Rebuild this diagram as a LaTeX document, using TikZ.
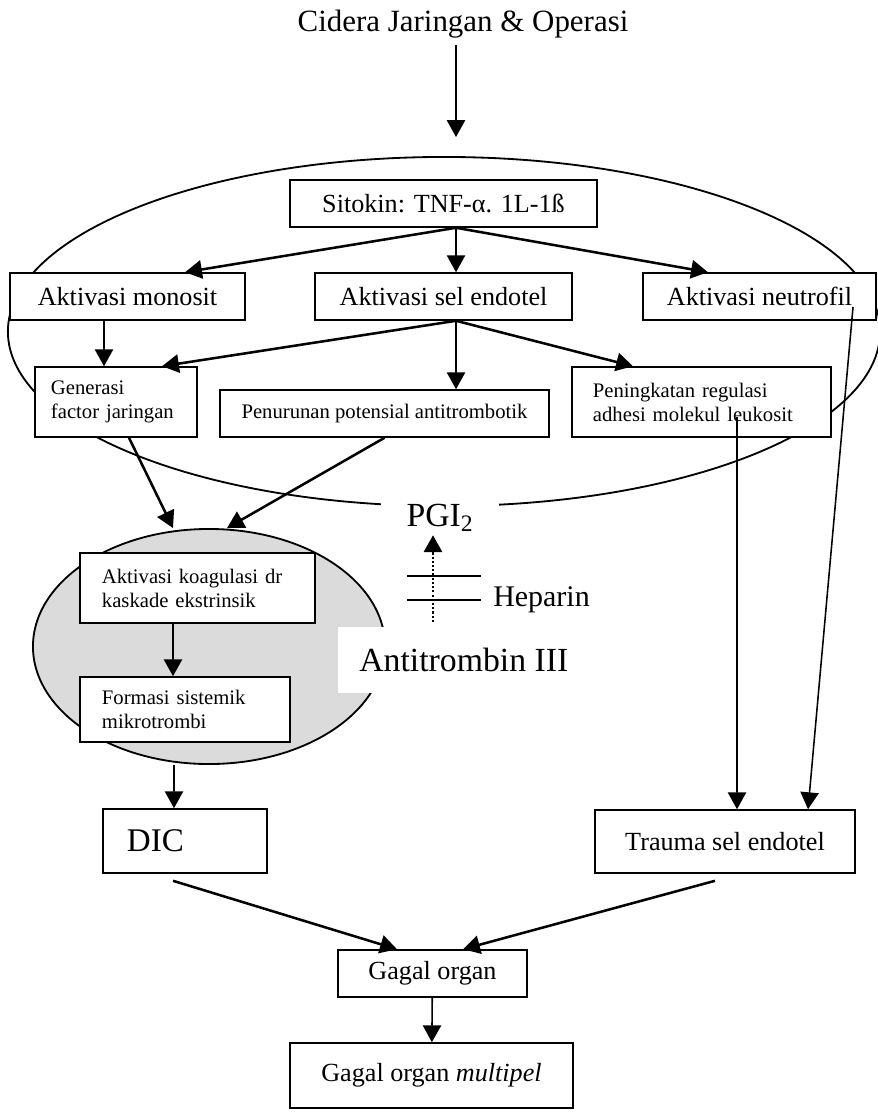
\documentclass[tikz,border=0pt]{standalone}
\usepackage{fontspec}
\setmainfont{Liberation Serif}
\usetikzlibrary{arrows.meta,shapes.geometric}

\newcommand{\midsize}{\fontsize{18.6}{21}\selectfont}
\newcommand{\kecil}{\fontsize{14.7}{17}\selectfont}
\newcommand{\besar}{\fontsize{24}{28}\selectfont}

\begin{document}
\begin{tikzpicture}[x=0.025cm,y=-0.025cm,
  kotak/.style={draw=black,fill=white,line width=1.1pt,inner sep=0pt,font=\midsize},
  kotakkiri/.style={kotak,align=left,font=\kecil},
  panah/.style={-{Triangle[length=12pt,width=13pt]},line width=1.1pt},
  panahtebal/.style={panah,line width=1.8pt}]
\useasboundingbox (0,0) rectangle (878,1112);
\draw [black,line width=1.3pt] (444,331.5) ellipse [x radius=10.9cm, y radius=4.3625cm];
\node [fill=white,inner xsep=0.65cm,inner ysep=0.08cm,font=\besar] (pgi) at (440,518) {PGI\textsubscript{2}};
\node [ellipse,draw=black,line width=1.3pt,fill=gray!28,minimum width=8.8cm,minimum height=5.875cm,inner sep=0pt] (clot) at (209,646.5) {};
\node [fill=white,anchor=west,minimum height=1.65cm,inner xsep=0.525cm,font=\besar] (at3) at (338,660) {Antitrombin III};
\node [anchor=west,inner sep=0pt,font=\fontsize{21.3}{25}\selectfont] (hep) at (493,600) {Heparin};
\node [inner sep=0pt,font=\fontsize{22}{26}\selectfont] (title) at (463,24) {Cidera Jaringan \& Operasi};
\coordinate (injury) at (456,137);

\node [kotak,minimum width=7.675cm,minimum height=1.175cm] (sitokin) at (443.5,203.5) {Sitokin: TNF-α. 1L-1ß};
\node [kotak,minimum width=5.875cm,minimum height=1.175cm] (mono) at (127.5,296.5) {Aktivasi monosit};
\node [kotak,minimum width=6.425cm,minimum height=1.175cm] (endo) at (443.5,296.5) {Aktivasi sel endotel};
\node [kotak,minimum width=5.825cm,minimum height=1.175cm] (neut) at (759.5,296.5) {Aktivasi neutrofil};
\node [kotakkiri,minimum width=4.05cm,minimum height=1.75cm,text width=3.25cm] (gen) at (116,402) {Generasi\\factor jaringan};
\node [kotak,font=\kecil,minimum width=8.225cm,minimum height=1.175cm] (penu) at (384.5,413.5) {Penurunan potensial antitrombotik};
\node [kotakkiri,minimum width=6.475cm,minimum height=1.75cm,text width=5.425cm] (peni) at (701.5,402) {Peningkatan regulasi\\adhesi molekul leukosit};
\node [kotakkiri,minimum width=5.875cm,minimum height=1.75cm,text width=4.775cm] (koag) at (197.5,588) {Aktivasi koagulasi dr\\kaskade ekstrinsik};
\node [kotakkiri,minimum width=5.25cm,minimum height=1.625cm,text width=4.15cm] (form) at (185,709.5) {Formasi sistemik\\mikrotrombi};
\node [kotakkiri,font=\fontsize{23.5}{28}\selectfont,minimum width=4.1cm,minimum height=1.6cm,text width=2.9cm] (dic) at (185,841) {DIC};
\node [kotak,minimum width=6.5cm,minimum height=1.575cm] (trauma) at (725,841.5) {Trauma sel endotel};
\node [kotak,minimum width=4.725cm,minimum height=1.175cm] (gagal) at (432.5,973.5) {Gagal organ};
\node [kotak,minimum width=7.075cm,minimum height=1.625cm] (multi) at (431.5,1075.5) {Gagal organ \textit{multipel}};

\draw [panah,shorten <=5pt] (title.south -| injury) -- (injury);
\draw [panahtebal] ([xshift=0.3125cm]sitokin.south) -- ([xshift=1.4375cm]mono.north);
\draw [panah] ([xshift=0.3125cm]sitokin.south) -- ([xshift=0.3125cm]endo.north);
\draw [panahtebal] ([xshift=0.3125cm]sitokin.south) -- ([xshift=-1.2875cm]neut.north);
\draw [panah] ([xshift=-0.5875cm]mono.south) -- ([xshift=-0.3cm]gen.north);
\draw [panahtebal] ([xshift=0.3125cm]endo.south) -- ([xshift=1.15cm]gen.north);
\draw [panah] ([xshift=0.3125cm]endo.south) -- ([xshift=1.7875cm]penu.north);
\draw [panahtebal] ([xshift=0.3125cm]endo.south) -- ([xshift=-1.7125cm]peni.north);
\draw [panahtebal] ([xshift=0.325cm]gen.south) -- ([xshift=-0.9cm]clot.north);
\draw [panahtebal] (penu.south) -- ([xshift=0.45cm]clot.north);
\draw [panah] ([xshift=-0.6125cm]koag.south) -- ([xshift=-0.3cm]form.north);
\draw [panah] ([xshift=-0.875cm]clot.south) -- ([xshift=-0.275cm]dic.north);
\draw [panah] ([xshift=0.8875cm,yshift=-0.375cm]peni.center) -- ([xshift=0.3cm]trauma.north);
\draw [panah] ([xshift=2.3375cm,yshift=-0.2625cm]neut.center) -- ([xshift=2.075cm]trauma.north);
\draw [panahtebal] ([xshift=-0.3cm,yshift=-0.175cm]dic.south) -- ([xshift=-0.8875cm]gagal.north);
\draw [panahtebal] ([xshift=-0.25cm,yshift=-0.175cm]trauma.south) -- ([xshift=0.7625cm]gagal.north);
\draw [panah] (gagal) -- (multi);

\coordinate (atBase) at (433,622);
\draw [panah,line width=1.6pt,dash pattern=on 1.5pt off 1.5pt] (atBase) -- (atBase |- pgi.south);
\draw [black,line width=1.3pt] (407,576) -- (481,576);
\draw [black,line width=1.3pt] (407,600) -- (481,600);
\end{tikzpicture}
\end{document}
